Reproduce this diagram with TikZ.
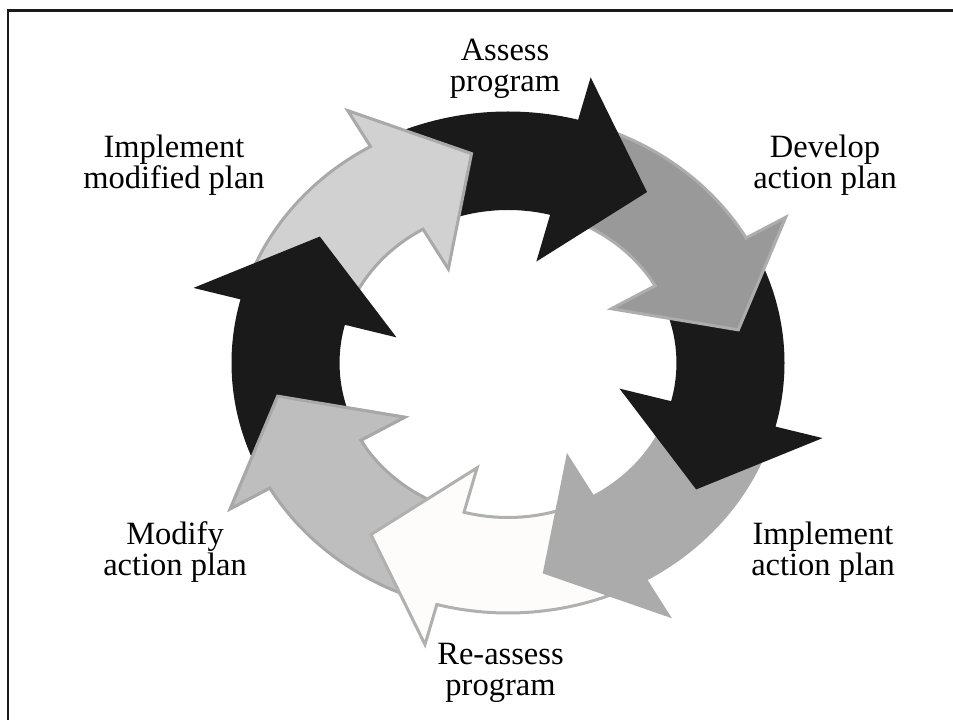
\documentclass[tikz,border=0pt]{standalone}
\usepackage{fontspec}
\setmainfont{Liberation Serif}
\definecolor{ablack}{HTML}{1A1A1A}
\definecolor{alight}{HTML}{D1D1D1}
\definecolor{alightb}{HTML}{A9A9A9}
\definecolor{adark}{HTML}{999999}
\definecolor{adarkb}{HTML}{ADADAD}
\definecolor{amid}{HTML}{ABABAB}
\definecolor{awhite}{HTML}{FDFCFA}
\definecolor{awhiteb}{HTML}{B0B0B0}
\definecolor{amod}{HTML}{BEBEBE}
\definecolor{amodb}{HTML}{A8A8A8}
\newcommand\ringarrow[3]{%
  \pgfmathsetmacro\rta{#1+40}%
  \pgfmathsetmacro\rtp{#1-21}%
  \filldraw[fill=#2,draw=#3,line width=3pt,line join=miter]
    (\rta:250) arc[start angle=\rta,end angle=#1,radius=250]
    -- (#1:291.5) -- (\rtp:212) -- (#1:108.5) -- (#1:154.5)
    arc[start angle=#1,end angle=\rta,radius=154.5] -- cycle;}
\begin{document}
\begin{tikzpicture}[x=1pt,y=1pt,
  lbl/.style={align=center,font=\fontsize{32.5}{31}\selectfont,inner sep=0pt}]
\useasboundingbox (0,0) rectangle (953,720);
\fill[white] (0,0) rectangle (953,720);
\draw[line width=2.6pt,ablack] (8,0) -- (8,709.5) -- (953,709.5);
\begin{scope}[shift={(508,357)},xscale=1.1]
  \ringarrow{-150}{amod}{amodb}
  \ringarrow{-105}{awhite}{awhiteb}
  \ringarrow{-60}{amid}{amid}
  \ringarrow{-15}{ablack}{ablack}
  \ringarrow{30}{adark}{adarkb}
  \ringarrow{75}{ablack}{ablack}
  \ringarrow{120}{alight}{alightb}
  \ringarrow{165}{ablack}{ablack}
  \begin{scope}
    \clip (0,0) -- (-175:420) arc[start angle=-175,end angle=-147,radius=420] -- cycle;
    \ringarrow{-150}{amod}{amodb}
  \end{scope}
\end{scope}
\node[lbl] (assess) at (505,651.5) {Assess\\program};
\node[lbl] (develop) at (825,554.5) {Develop\\action plan};
\node[lbl] (implmod) at (174,554.5) {Implement\\modified plan};
\node[lbl] (impl) at (823,167.5) {Implement\\action plan};
\node[lbl] (modify) at (175,168) {Modify\\action plan};
\node[lbl] (reassess) at (500.5,47.5) {Re-assess\\program};
\end{tikzpicture}
\end{document}
